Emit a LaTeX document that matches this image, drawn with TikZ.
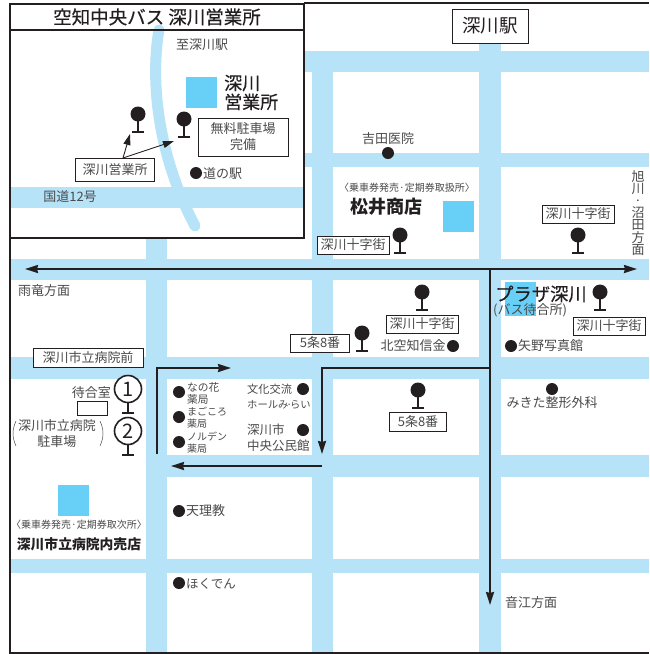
\documentclass[tikz,border=0pt]{standalone}
\usepackage{fontspec}
\setmainfont{Noto Sans CJK JP}
\newfontfamily\medfont[FakeBold=0.35]{Noto Sans CJK JP}
\definecolor{road}{HTML}{B7E3F8}
\definecolor{bld}{HTML}{68CFF6}
\definecolor{ink}{HTML}{231F20}
\definecolor{txt}{HTML}{4A4A4A}
\usetikzlibrary{arrows.meta}
\tikzset{
  x=1pt,y=-1pt,
  rd/.style={fill=road,draw=none},
  bldg/.style={fill=bld,draw=none},
  lbl/.style={font=\fontsize{#1}{15.5}\selectfont,text=txt,inner sep=0pt,align=center},
  lbl/.default=13,
  tight/.style={font=\fontsize{#1}{12}\selectfont,text=txt,inner sep=0pt,align=left,anchor=west},
  boxed/.style={draw=ink,line width=.8pt,fill=white,font=\fontsize{#1}{16}\selectfont,text=txt,inner sep=0pt,align=center},
  boxed/.default=13,
  dotm/.style={circle,fill=ink,minimum size=12pt,inner sep=0pt},
  frame/.style={draw=ink,line width=2.2pt},
  route/.style={draw=ink,line width=2pt},
  arr/.style={-{Stealth[length=13pt,width=8pt,inset=1pt]}},
  arrs/.style={-{Stealth[length=11pt,width=7pt,inset=0pt]}},
  numc/.style={circle,draw=ink,line width=1.6pt,fill=white,minimum size=27pt,inner sep=0pt,font=\fontsize{20}{20}\selectfont,text=ink},
  stem/.style={draw=ink,line width=1.8pt},
}
\newcommand{\busstop}[3]{% name, x, y of circle
  \fill[ink] (#2,#3) circle (7.5pt);
  \draw[stem] (#2,#3) -- (#2,#3+18);
  \draw[stem] (#2-6,#3+18) -- (#2+6,#3+18);
  \coordinate (#1) at (#2,#3);
}
\begin{document}
\begin{tikzpicture}
\useasboundingbox (0,0) rectangle (649,654);
\fill[white] (0,0) rectangle (649,654);
% roads
\fill[rd] (305,51) rectangle (649,72);
\fill[rd] (305,153) rectangle (649,167);
\fill[rd] (10,259) rectangle (649,280);
\fill[rd] (10,357) rectangle (649,379);
\fill[rd] (167,455) rectangle (649,477);
\fill[rd] (10,559) rectangle (649,573);
\fill[rd] (146,238) rectangle (167,654);
\fill[rd] (312,51) rectangle (333,654);
\fill[rd] (479,30) rectangle (501,654);
% frames
\fill[white] (10,4) rectangle (304,238);
\draw[road,line width=11pt,line cap=round] (159,30) .. controls (151,75) and (155,150) .. (195,226);
\fill[rd] (11,187) rectangle (304,208);
% buildings
\fill[bldg] (186,77) rectangle (217,108);
\fill[bldg] (443,201) rectangle (474,232);
\fill[bldg] (505,282) rectangle (536,316);
\fill[bldg] (58,485) rectangle (89,516);
\draw[frame] (10,4) rectangle (304,30);
\draw[frame] (10,30) rectangle (304,238);
\draw[ink,line width=1.6pt] (10,4) -- (10,653) -- (649,653);
\draw[ink,line width=1.4pt] (304,3) -- (649,3);
% inset
\node[font=\fontsize{18.5}{18.5}\medfont,text=ink,inner sep=0pt] (title) at (157,17) {空知中央バス 深川営業所};
\node[lbl=13] (l1) at (202,45) {至深川駅};
\node[font=\fontsize{18}{19}\medfont,text=ink,inner sep=0pt,align=left,anchor=west] (l2) at (224,92.5) {深川\\営業所};
\busstop{s1}{138}{114}
\busstop{s2}{184}{119}
\node[boxed=13,minimum width=90pt,minimum height=38pt] (free) at (243,137) {無料駐車場\\完備};
\node[boxed=13,minimum width=79pt,minimum height=23pt] (eig) at (115,170) {深川営業所};
\coordinate (ea) at (123,158);
\coordinate (t1) at (130,134);
\coordinate (t2) at (174,141);
\draw[ink,line width=.9pt,arrs] (ea) -- (t1);
\draw[ink,line width=.9pt,arrs] (ea) -- (t2);
\node[dotm] (d1) at (196,173) {};
\node[lbl=13,anchor=west] (l3) at (203,173.5) {道の駅};
\node[lbl=13] (l4) at (70,197) {国道12号};
% station
\node[boxed=18.5,minimum width=76pt,minimum height=34pt,text=ink] (st) at (490,26) {深川駅};
% arrows
\coordinate (wEnd) at (25,269);
\coordinate (eEnd) at (637,269);
\coordinate (jn) at (490,269);
\coordinate (sEnd) at (490,605);
\coordinate (jn2) at (490,368);
\coordinate (tr) at (322,368);
\coordinate (tb) at (322,454);
\coordinate (ls) at (322,466);
\coordinate (le) at (171,466);
\coordinate (bl) at (157,454);
\coordinate (tl) at (157,368);
\coordinate (te) at (231,368);
\draw[route,arr] (jn) -- (wEnd);
\draw[route,arr] (jn) -- (eEnd);
\draw[route,arr] (jn) -- (sEnd);
\draw[route,arr] (jn2) -- (tr) -- (tb);
\draw[route,arr] (ls) -- (le);
\draw[route,arr] (bl) -- (tl) -- (te);
% upper right
\node[dotm] (d2) at (388,153) {};
\node[lbl=13] (l5) at (388,139) {吉田医院};
\node[lbl=10] (l6) at (407,188) {〈乗車券発売·定期券取扱所〉};
\node[font=\fontsize{18}{18}\selectfont\bfseries,text=ink,inner sep=0pt] (l7) at (386,207) {松井商店};
\busstop{s3}{400}{235}
\node[boxed=13,minimum width=72pt,minimum height=18pt] (b3) at (353,245) {深川十字街};
\busstop{s4}{578}{235}
\node[boxed=13,minimum width=72pt,minimum height=18pt] (b4) at (578,214) {深川十字街};
\node[font=\fontsize{13}{12.2}\selectfont,text=txt,inner sep=0pt,align=center,anchor=north,text width=14pt] (l8) at (638,170) {旭\\川\\·\\沼\\田\\方\\面};
% row 2
\node[lbl=13,anchor=west] (l9) at (18,291) {雨竜方面};
\busstop{s5}{422}{292}
\node[boxed=13,minimum width=72pt,minimum height=18pt] (b5) at (422,324) {深川十字街};
\busstop{s6}{362}{333}
\node[boxed=13,minimum width=59pt,minimum height=18pt] (b6) at (320,343) {5条8番};
\node[lbl=13] (l10) at (413,346) {北空知信金};
\node[dotm] (d3) at (453,346) {};
\node[font=\fontsize{18.3}{18.3}\medfont,text=ink,inner sep=0pt,anchor=west] (l11) at (495,294) {プラザ深川};
\node[lbl=13,anchor=west] (l12) at (493,310) {(バス待合所)};
\busstop{s7}{600}{292}
\node[boxed=13,minimum width=72pt,minimum height=18pt] (b7) at (609,326) {深川十字街};
\node[dotm] (d4) at (511,346) {};
\node[lbl=13,anchor=west] (l13) at (518,346) {矢野写真館};
\busstop{s8}{418}{390}
\node[boxed=13,minimum width=57pt,minimum height=19pt] (b8) at (418,422) {5条8番};
\node[dotm] (d5) at (552,389) {};
\node[lbl=13] (l14) at (552,403) {みきた整形外科};
\node[lbl=13,anchor=west] (l15) at (505,603) {音江方面};
% left column
\node[boxed=13,minimum width=110pt,minimum height=19pt] (b9) at (88,358) {深川市立病院前};
\draw[stem] (128,390) -- (128,413);
\draw[stem] (122,413) -- (134,413);
\draw[stem] (128,432) -- (128,455);
\draw[stem] (122,455) -- (134,455);
\node[numc] (c1) at (128,389) {1};
\node[numc] (c2) at (128,431) {2};
\node[lbl=13,anchor=east] (l16) at (111,393) {待合室};
\node[draw=ink,line width=.8pt,minimum width=30pt,minimum height=14pt,inner sep=0pt] (wr) at (92,408) {};
\node[font=\fontsize{13}{15.5}\selectfont,text=txt,inner sep=0pt,align=center] (l17) at (57,433.5) {深川市立病院\\駐車場};
\draw[txt,line width=.5pt] (16,421) .. controls (12,430) and (12,437) .. (16,446);
\draw[txt,line width=.5pt] (100,421) .. controls (104,430) and (104,437) .. (100,446);
\node[lbl=10] (l18) at (79,525) {〈乗車券発売·定期券取次所〉};
\node[font=\fontsize{13.8}{13.8}\selectfont\bfseries,text=ink,inner sep=0pt] (l19) at (79,544) {深川市立病院内売店};
% center block
\node[dotm] (d6) at (179,392) {};
\node[tight=10.7] (l20) at (187,393) {なの花\\薬局};
\node[dotm] (d7) at (179,417) {};
\node[tight=10] (l21) at (187,418) {まごころ\\薬局};
\node[dotm] (d8) at (179,442) {};
\node[tight=10] (l22) at (187,443) {ノルデン\\薬局};
\node[font=\fontsize{11.2}{15}\selectfont,text=txt,inner sep=0pt,align=left,anchor=west] (l23) at (247,396.5) {文化交流\\{\fontsize{10.3}{15}\selectfont ホールみ\kern-2pt·\kern-2pt らい}};
\node[dotm] (d9) at (303,389) {};
\node[font=\fontsize{12.5}{16}\selectfont,text=txt,inner sep=0pt,align=left,anchor=west] (l24) at (247,438) {深川市\\中央公民館};
\node[dotm] (d10) at (303,430) {};
\node[dotm] (d11) at (179,511) {};
\node[lbl=13,anchor=west] (l25) at (186,511) {天理教};
\node[dotm] (d12) at (179,583) {};
\node[lbl=12.5,anchor=west] (l26) at (186,584) {ほくでん};
\end{tikzpicture}
\end{document}
